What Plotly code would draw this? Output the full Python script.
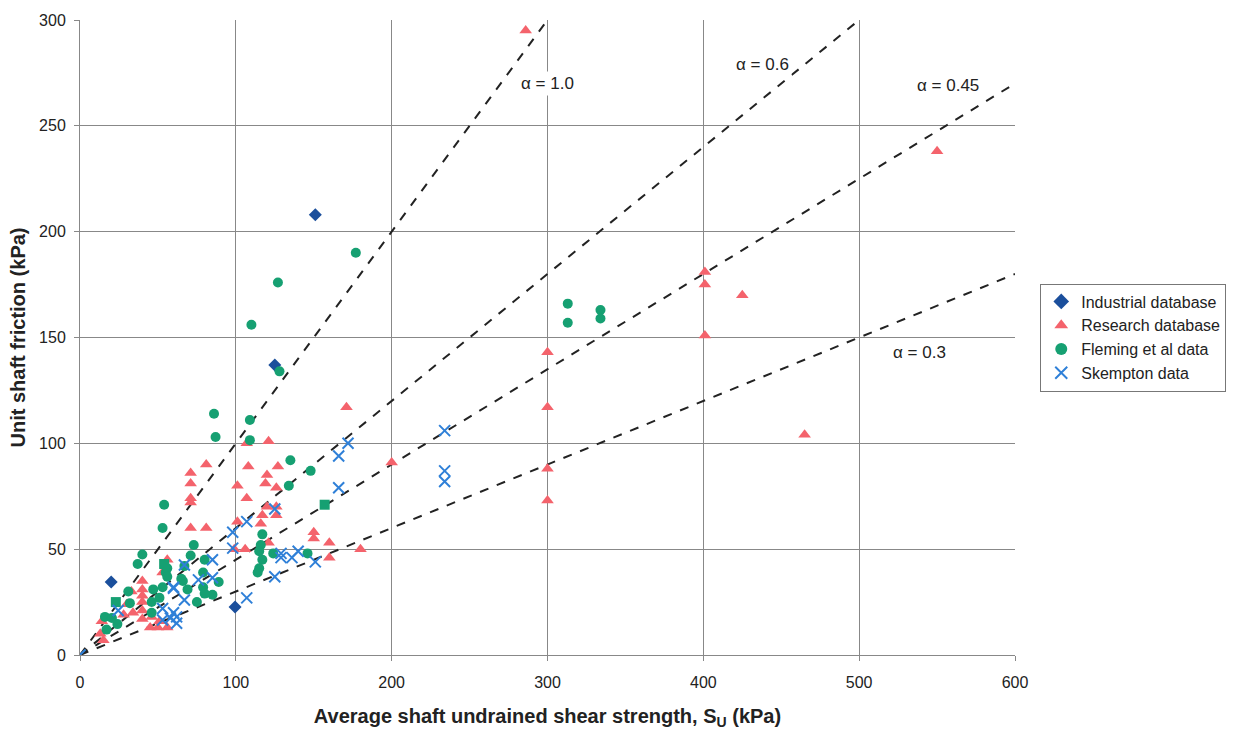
import plotly.graph_objects as go

# ---------------- data ----------------
industrial_x = [151, 125, 20, 99.5]
industrial_y = [208, 137, 34.5, 22.7]

research_x = [286, 550, 401, 401, 401, 425, 465,
              300, 300, 300, 300,
              200, 171, 180, 160, 160, 150, 150,
              127, 121, 107, 81, 108, 71, 71, 101, 120, 119, 126, 107, 71, 71,
              120, 126, 117, 126, 116, 101, 71, 81, 99, 106, 121,
              56, 53, 40, 40, 40, 40, 40, 40, 34, 28, 45, 50, 56, 51, 14, 13, 15,
              46, 30, 33]
research_y = [295, 238, 181, 175, 151, 170, 104,
              143, 117, 88, 73,
              91, 117, 50, 53, 46, 58, 55,
              89, 101, 100, 90, 89, 86, 81, 80, 85, 81, 79, 74, 74, 72,
              70, 70, 66, 66, 62, 63, 60, 60, 50, 50, 53,
              45, 39, 35, 31, 28, 25, 21, 17, 20, 19, 13, 13, 13, 16, 16, 10, 7,
              18, 24, 30]

fleming_x = [177, 127, 110, 313, 313, 334, 334, 128, 109, 109, 86, 87, 135, 134, 148, 54, 53,
             117, 116, 115, 117, 115, 114, 124, 146,
             73, 71, 80, 79, 89, 79, 85, 69, 75, 66, 67, 80,
             40, 37, 31, 32, 47, 46, 53, 51, 46, 55, 56, 56, 16, 17, 24, 20.5, 65]
fleming_y = [190, 176, 156, 166, 157, 163, 159, 134, 111, 101.5, 114, 103, 92, 80, 87, 71, 60,
             57, 52, 49, 45, 41, 39, 48, 48,
             52, 47, 45, 39, 34.5, 32, 28.5, 31, 25, 35, 42, 29,
             47.5, 43, 30, 24.5, 31, 20, 32, 27, 25, 39, 41, 37, 18, 12, 14.6, 17.5, 36]

fleming_sq_x = [157, 54, 23]
fleming_sq_y = [71, 43, 25]

skempton_x = [0, 172, 166, 166, 234, 234, 234, 125, 107, 98, 98, 129, 129, 136, 140, 151,
              125, 107, 85, 76, 85, 67, 67, 60, 53, 53, 58, 62, 62, 60, 24.5, 60]
skempton_y = [0, 100, 94, 79, 106, 87, 82, 69, 63, 58, 50.5, 48, 46, 46, 49, 44,
              37, 27, 45, 35.5, 36.5, 26, 42.5, 32, 22, 16.5, 17.5, 18, 15, 20, 21, 31.5]

alphas = [1.0, 0.6, 0.45, 0.3]
alpha_labels = ["α = 1.0", "α = 0.6", "α = 0.45", "α = 0.3"]
label_x = [300, 438, 557, 539]
label_y = [270, 279, 269, 143]

x_ticks = [0, 100, 200, 300, 400, 500, 600]
y_ticks = [0, 50, 100, 150, 200, 250, 300]

# ---------------- figure ----------------
fig = go.Figure()

XMAX, YMAX = 600, 300
for a in alphas:
    xe = min(XMAX, YMAX / a)
    fig.add_trace(go.Scatter(x=[0, xe], y=[0, a * xe], mode="lines",
                             line=dict(color="#222222", width=2, dash="dash"),
                             showlegend=False, hoverinfo="skip"))

fig.add_trace(go.Scatter(x=industrial_x, y=industrial_y, mode="markers",
                         name="Industrial database",
                         marker=dict(symbol="diamond", size=10, color="#1B4F9C")))
fig.add_trace(go.Scatter(x=research_x, y=research_y, mode="markers",
                         name="Research database",
                         marker=dict(symbol="triangle-up", size=11, color="#F4636C")))
fig.add_trace(go.Scatter(x=fleming_x, y=fleming_y, mode="markers",
                         name="Fleming et al data",
                         marker=dict(symbol="circle", size=10, color="#16A072")))
fig.add_trace(go.Scatter(x=fleming_sq_x, y=fleming_sq_y, mode="markers",
                         showlegend=False,
                         marker=dict(symbol="square", size=10, color="#16A072")))
fig.add_trace(go.Scatter(x=skempton_x, y=skempton_y, mode="markers",
                         name="Skempton data",
                         marker=dict(symbol="x-thin", size=11, color="#2F80D8",
                                     line=dict(color="#2F80D8", width=2))))

for t, x, y in zip(alpha_labels, label_x, label_y):
    fig.add_annotation(x=x, y=y, text=t, showarrow=False,
                       font=dict(family="Liberation Sans, Arial", size=17, color="#222222"),
                       bgcolor="white", borderpad=2)

fig.update_layout(
    width=1239, height=731,
    margin=dict(l=80, r=224, t=20, b=76),
    plot_bgcolor="white", paper_bgcolor="white",
    font=dict(family="Liberation Sans, Arial", size=16, color="#222222"),
    legend=dict(x=1.027, y=0.585, xanchor="left", yanchor="top",
                bordercolor="#777777", borderwidth=1, bgcolor="white",
                font=dict(size=16), itemsizing="constant", tracegroupgap=0),
    xaxis=dict(range=[0, XMAX], tickvals=x_ticks, showgrid=True, gridcolor="#888888",
               gridwidth=1, showline=True, linecolor="#888888", ticks="outside",
               ticklen=5, tickcolor="#888888", zeroline=False, automargin=False,
               tickfont=dict(size=16), ticklabelstandoff=8,
               title=dict(text="<b>Average shaft undrained shear strength, S<sub>U</sub> (kPa)</b>",
                          font=dict(size=20), standoff=18)),
    yaxis=dict(range=[0, YMAX], tickvals=y_ticks, showgrid=True, gridcolor="#888888",
               gridwidth=1, showline=True, linecolor="#888888", ticks="outside",
               ticklen=5, tickcolor="#888888", zeroline=False, automargin=False,
               tickfont=dict(size=16), ticklabelstandoff=5,
               title=dict(text="<b>Unit shaft friction (kPa)</b>", font=dict(size=20), standoff=8)),
)

fig.write_html("out.html")
